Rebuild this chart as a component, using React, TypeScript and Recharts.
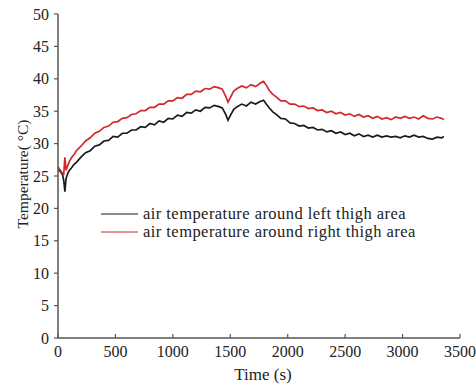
import { Legend, Line, LineChart, XAxis, YAxis } from 'recharts'

const timeS = [
  0, 20, 40, 50, 60, 70, 85, 100, 120, 140, 160,
  200, 240, 280, 320, 360, 400, 440, 480, 520, 560, 600, 640, 680, 720, 760, 800,
  840, 880, 920, 960, 1000, 1040, 1080, 1120, 1160, 1200, 1240, 1280, 1320, 1360, 1400,
  1430, 1460, 1480, 1500, 1530, 1560,
  1600, 1640, 1680, 1720, 1760,
  1790, 1810, 1840, 1870, 1900, 1940,
  1980, 2020, 2060, 2100, 2140, 2180, 2220, 2260, 2300, 2340, 2380, 2420, 2460, 2500,
  2540, 2580, 2620, 2660, 2700, 2740, 2780, 2820, 2860, 2900, 2940, 2980, 3020, 3060,
  3100, 3140, 3180, 3220, 3260, 3300, 3340,
  3360,
]

const leftThigh = [
  26.0, 25.7, 25.2, 24.3, 22.6, 24.6, 25.4, 25.9, 26.3, 26.8, 27.1,
  27.9, 28.6, 28.9, 29.6, 29.8, 30.4, 30.5, 31.1, 31.0, 31.6, 31.6, 32.1, 32.1, 32.6, 32.5, 33.1,
  32.9, 33.5, 33.3, 33.9, 33.8, 34.4, 34.2, 34.8, 34.7, 35.2, 35.0, 35.6, 35.5, 35.9, 35.7,
  35.5, 34.5, 33.6, 34.3, 35.3, 35.7,
  36.1, 35.8, 36.4, 36.1, 36.5,
  36.7, 36.2, 35.5, 34.9, 34.5, 33.9,
  33.8, 33.2, 33.1, 32.7, 32.8, 32.4, 32.5, 32.1, 32.2, 31.8, 32.0, 31.6, 31.8, 31.4,
  31.6, 31.2, 31.5, 31.1, 31.3, 31.0, 31.3, 31.0, 31.2, 31.0, 31.1, 30.9, 31.2, 31.0,
  31.3, 31.0, 31.1, 30.8, 30.7, 31.0, 30.9,
  31.1,
]

const rightThigh = [
  26.4, 25.9, 25.4, 25.3, 27.9, 25.9, 26.6, 27.3, 27.9, 28.3, 28.9,
  29.6, 30.4, 30.9, 31.6, 31.9, 32.5, 32.7, 33.3, 33.4, 33.9, 34.0, 34.5, 34.6, 35.1, 35.1, 35.6,
  35.6, 36.1, 36.1, 36.6, 36.6, 37.1, 37.0, 37.6, 37.6, 38.1, 38.0, 38.5, 38.4, 38.8, 38.6,
  38.4, 37.3, 36.4, 37.1, 38.1, 38.5,
  38.9, 38.6, 39.1, 38.8, 39.3,
  39.6, 39.1, 38.2, 37.6, 37.2, 36.6,
  36.6, 36.1, 36.1, 35.7, 35.8, 35.4, 35.5, 35.1, 35.2, 34.8, 35.0, 34.6, 34.8, 34.4,
  34.6, 34.2, 34.5, 34.1, 34.3, 33.9, 34.2, 33.8, 34.0, 33.7, 34.1, 33.9, 34.2, 33.9,
  34.1, 33.8, 34.3, 33.9, 33.8, 34.1, 33.9,
  33.7,
]

const xTicks = [0, 500, 1000, 1500, 2000, 2500, 3000, 3500]
const yTicks = [0, 5, 10, 15, 20, 25, 30, 35, 40, 45, 50]

const data = timeS.map((t, i) => ({ t, left: leftThigh[i], right: rightThigh[i] }))

const FONT = '"Liberation Serif", "Times New Roman", serif'
const AXIS = '#555'
const TEXT = '#222'

function XTick({ x, y, payload }: any) {
  return (
    <g>
      <line stroke={AXIS} strokeWidth={1.2} x1={x} x2={x} y1={y - 4} y2={y} />
      <text fill={TEXT} fontFamily={FONT} fontSize={16} textAnchor="middle" x={x} y={y + 19}>
        {payload.value}
      </text>
    </g>
  )
}

function YLabel({ viewBox }: any) {
  const cx = viewBox.x + 22
  const cy = viewBox.y + viewBox.height / 2 - 2
  return (
    <text
      dominantBaseline="central"
      fill={TEXT}
      fontFamily={FONT}
      fontSize={15.5}
      textAnchor="middle"
      transform={`rotate(-90, ${cx}, ${cy})`}
      x={cx}
      y={cy}
    >
      Temperature( °C)
    </text>
  )
}

function LegendBox({ payload }: any) {
  return (
    <div style={{ fontFamily: FONT, fontSize: 16.5, letterSpacing: 0.45, color: TEXT, lineHeight: '18px' }}>
      {(payload ?? []).map((p: any) => (
        <div key={p.value} style={{ display: 'flex', alignItems: 'center', whiteSpace: 'nowrap', height: 18 }}>
          <svg height={10} style={{ marginRight: 5 }} width={37}>
            <line stroke={p.color} strokeWidth={1} x1={0} x2={37} y1={5} y2={5} />
          </svg>
          <span>{p.value}</span>
        </div>
      ))}
    </div>
  )
}

export default function App() {
  return (
    <div style={{ position: 'absolute', left: 0, top: 0, background: '#fff' }}>
      <LineChart
        data={data}
        height={385}
        margin={{ top: 14, right: 16, bottom: 0, left: 0 }}
        style={{ fontFamily: FONT }}
        width={476}
      >
        <XAxis
          axisLine={{ stroke: AXIS, strokeWidth: 1.5 }}
          dataKey="t"
          domain={[0, 3500]}
          height={47}
          label={{ value: 'Time (s)', position: 'insideBottom', offset: 5, dx: 4, fill: TEXT, fontSize: 17 }}
          tick={<XTick />}
          tickLine={false}
          tickMargin={0}
          tickSize={0}
          ticks={xTicks}
          type="number"
        />
        <YAxis
          axisLine={{ stroke: AXIS, strokeWidth: 1.5 }}
          domain={[0, 50]}
          label={<YLabel />}
          tick={{ fill: TEXT, fontSize: 16, fontFamily: FONT }}
          tickLine={{ stroke: AXIS, strokeWidth: 1.2 }}
          tickMargin={5}
          tickSize={4}
          ticks={yTicks}
          type="number"
          width={58}
        />
        <Legend
          align="center"
          content={<LegendBox />}
          layout="vertical"
          verticalAlign="middle"
          wrapperStyle={{ left: 101, top: 205, width: 'auto' }}
        />
        <Line
          dataKey="left"
          dot={false}
          isAnimationActive={false}
          name="air temperature around left thigh area"
          stroke="#1a1a1a"
          strokeWidth={1.7}
          type="linear"
        />
        <Line
          dataKey="right"
          dot={false}
          isAnimationActive={false}
          name="air temperature around right thigh area"
          stroke="#d0282c"
          strokeWidth={1.7}
          type="linear"
        />
      </LineChart>
    </div>
  )
}
